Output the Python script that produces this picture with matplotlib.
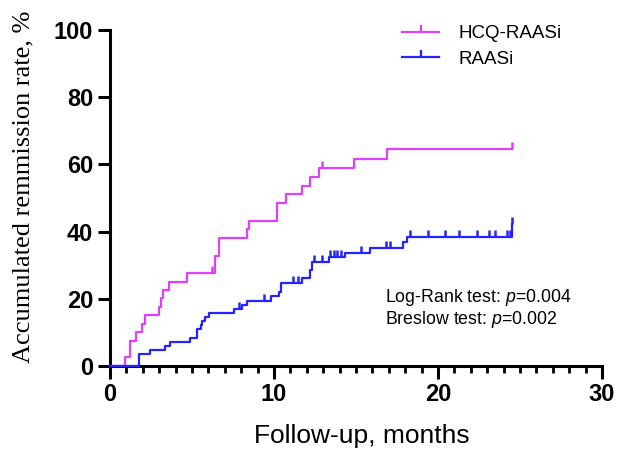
import matplotlib
matplotlib.use('Agg')
import matplotlib.pyplot as plt
from matplotlib.path import Path
from matplotlib.lines import Line2D
from matplotlib.ticker import MultipleLocator
import numpy as np

# event times (months) and accumulated remission (%) after each event
hcq_times = [0.92, 1.23, 1.58, 1.94, 2.14, 2.96, 3.11, 3.22, 3.57, 4.70, 6.43, 6.64, 8.37, 8.48,
             10.21, 10.72, 11.69, 12.20, 12.72, 14.86, 16.90]
hcq_rates = [2.6, 7.5, 10.0, 12.5, 15.2, 17.6, 20.1, 22.6, 25.1, 27.8, 32.7, 38.0, 40.7, 43.2,
             48.4, 51.1, 53.6, 56.2, 58.8, 61.6, 64.5]
hcq_censored = [6.23, 12.92, 24.5]

raasi_times = [1.74, 2.45, 3.37, 3.68, 4.90, 5.31, 5.52, 5.62, 5.82, 6.03, 7.56, 8.07, 8.37, 9.80,
               10.32, 10.42, 11.69, 12.20, 12.31, 13.38, 14.30, 15.83, 17.87, 18.08, 24.5]
raasi_rates = [3.6, 4.8, 6.0, 7.2, 8.4, 10.9, 12.2, 13.4, 14.7, 15.9, 17.0, 18.2, 19.4, 20.7,
               22.0, 24.7, 26.1, 28.5, 31.0, 32.5, 33.7, 35.2, 36.8, 38.3, 42.3]
raasi_censored = [7.86, 9.40, 11.18, 11.44, 12.41, 12.92, 13.43, 13.63, 13.84, 14.09, 15.32, 16.85,
                  17.06, 18.28, 19.40, 20.43, 21.29, 22.37, 23.08, 23.49, 24.20, 24.36, 24.5]
last_followup = 24.5

labels = ['HCQ-RAASi', 'RAASi']
colors = ['#E040FB', '#2424FF']

plt.rcParams['mathtext.fontset'] = 'custom'
plt.rcParams['mathtext.rm'] = 'Liberation Sans'
plt.rcParams['mathtext.it'] = 'Liberation Sans:italic'

tick = Path([(0, 0), (0, 1)], [Path.MOVETO, Path.LINETO])


def level_at(times, rates, t):
    idx = np.searchsorted(times, t, side='right') - 1
    return rates[idx] if idx >= 0 else 0.0


fig = plt.figure(figsize=(6.3, 4.51), dpi=100)
ax = fig.add_axes([110 / 630, 1 - 366 / 451, 492 / 630, 336 / 451])

series = [(hcq_times, hcq_rates, hcq_censored), (raasi_times, raasi_rates, raasi_censored)]
handles = []
for (times, rates, cens), lab, col in zip(series, labels, colors):
    xs = [0] + times + [last_followup]
    ys = [0] + rates + [rates[-1]]
    ax.step(xs, ys, where='post', color=col, lw=1.6, clip_on=False, zorder=4)
    cy = [level_at(times, rates, c) for c in cens]
    ax.plot(cens, cy, ls='none', marker=tick, markersize=10, markeredgewidth=1.8,
            color=col, clip_on=False, zorder=4)
    handles.append(Line2D([], [], color=col, lw=1.6, marker=tick, markersize=10,
                          markeredgewidth=1.6))

ax.set_xlim(0, 30)
ax.set_ylim(0, 100)
ax.xaxis.set_major_locator(MultipleLocator(10))
ax.xaxis.set_minor_locator(MultipleLocator(1))
ax.yaxis.set_major_locator(MultipleLocator(20))
for s in ['top', 'right']:
    ax.spines[s].set_visible(False)
for s in ['left', 'bottom']:
    ax.spines[s].set_linewidth(2.2)
ax.tick_params(which='major', length=9, width=2.2, pad=3)
ax.tick_params(which='minor', length=5, width=2.0)
for lbl in ax.get_xticklabels() + ax.get_yticklabels():
    lbl.set_fontfamily('Liberation Sans')
    lbl.set_fontweight('bold')
    lbl.set_fontsize(17)

fig.text(23 / 630, 1 - 187 / 451, 'Accumulated remmission rate, %', rotation=90,
         ha='center', va='center', family='Liberation Serif', fontsize=19)
fig.text(362 / 630, 1 - 436 / 451, 'Follow-up, months', ha='center', va='center',
         family='Liberation Sans', fontsize=19)

ax.legend(handles, labels, loc='upper left', bbox_to_anchor=(402 / 630, 1 - 25 / 451),
          bbox_transform=fig.transFigure, frameon=False, numpoints=1,
          prop={'family': 'Liberation Sans', 'size': 13.5}, handlelength=2.0,
          handletextpad=1.0, labelspacing=0.45, borderpad=0, borderaxespad=0)

ax.text(385 / 630, 1 - 298 / 451, 'Log-Rank test: $\\mathit{p}$=0.004', transform=fig.transFigure,
        ha='left', va='center', family='Liberation Sans', fontsize=12.8)
ax.text(385 / 630, 1 - 320 / 451, 'Breslow test: $\\mathit{p}$=0.002', transform=fig.transFigure,
        ha='left', va='center', family='Liberation Sans', fontsize=12.8)

fig.savefig('out.png', dpi=100)
